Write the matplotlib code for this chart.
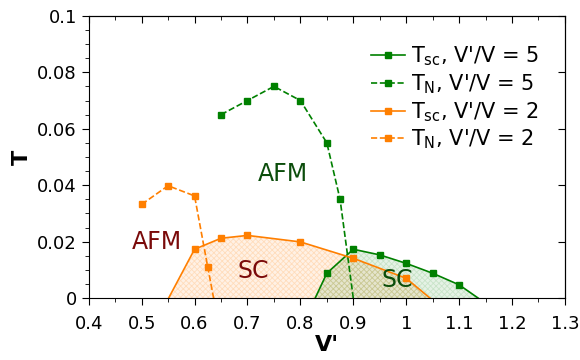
import matplotlib
matplotlib.use("Agg")
import matplotlib.pyplot as plt
from matplotlib.ticker import MultipleLocator

# Data
g_tsc_x = [0.828, 0.85, 0.9, 0.95, 1.0, 1.05, 1.1, 1.136]
g_tsc_y = [0.0, 0.0088, 0.0173, 0.0153, 0.0123, 0.0088, 0.0047, 0.0]
g_tn_x = [0.65, 0.7, 0.75, 0.8, 0.85, 0.875, 0.9]
g_tn_y = [0.065, 0.070, 0.075, 0.070, 0.055, 0.035, 0.0]
o_tsc_x = [0.551, 0.6, 0.65, 0.7, 0.8, 0.9, 1.0, 1.045]
o_tsc_y = [0.0, 0.0173, 0.0212, 0.0222, 0.0199, 0.0141, 0.0070, 0.0]
o_tn_x = [0.5, 0.55, 0.6, 0.625, 0.636]
o_tn_y = [0.0332, 0.0398, 0.0362, 0.0109, 0.0]

xticks = [0.4, 0.5, 0.6, 0.7, 0.8, 0.9, 1.0, 1.1, 1.2, 1.3]
xticklabels = ["0.4", "0.5", "0.6", "0.7", "0.8", "0.9", "1", "1.1", "1.2", "1.3"]
yticks = [0.0, 0.02, 0.04, 0.06, 0.08, 0.1]
yticklabels = ["0", "0.02", "0.04", "0.06", "0.08", "0.1"]

green = "#008000"
orange = "#ff7f00"
dgreen = "#0b4d0b"
dred = "#7a0a0a"

plt.rcParams["hatch.linewidth"] = 0.6

fig = plt.figure(figsize=(5.8, 3.6), dpi=100)
ax = fig.add_axes([0.153, 0.172, 0.821, 0.784])

ax.fill(o_tsc_x, o_tsc_y, facecolor=orange, alpha=0.10, edgecolor="none")
ax.fill(o_tsc_x, o_tsc_y, facecolor="none", edgecolor=orange, alpha=0.18, hatch="xxxxxx", linewidth=0)
ax.fill(g_tsc_x, g_tsc_y, facecolor=green, alpha=0.10, edgecolor="none")
ax.fill(g_tsc_x, g_tsc_y, facecolor="none", edgecolor=green, alpha=0.12, hatch="xxxxxx", linewidth=0)

ms = 5
ax.plot(g_tsc_x, g_tsc_y, "-s", color=green, ms=ms, lw=1.2, markevery=list(range(1, len(g_tsc_x) - 1)),
        label=r"T$_{\rm sc}$, V'/V = 5")
ax.plot(g_tn_x, g_tn_y, "--s", color=green, ms=ms, lw=1.2, markevery=list(range(0, len(g_tn_x) - 1)),
        label=r"T$_{\rm N}$, V'/V = 5")
ax.plot(o_tsc_x, o_tsc_y, "-s", color=orange, ms=ms, lw=1.2, markevery=list(range(1, len(o_tsc_x) - 1)),
        label=r"T$_{\rm sc}$, V'/V = 2")
ax.plot(o_tn_x, o_tn_y, "--s", color=orange, ms=ms, lw=1.2, markevery=list(range(0, len(o_tn_x) - 1)),
        label=r"T$_{\rm N}$, V'/V = 2")

ax.text(0.7675, 0.044, "AFM", color=dgreen, fontsize=17, ha="center", va="center")
ax.text(0.528, 0.020, "AFM", color=dred, fontsize=17, ha="center", va="center")
ax.text(0.7106, 0.0097, "SC", color=dred, fontsize=17, ha="center", va="center")
ax.text(0.9836, 0.0064, "SC", color=dgreen, fontsize=17, ha="center", va="center")

ax.set_xlim(0.4, 1.3)
ax.set_ylim(0, 0.1)
ax.set_xticks(xticks)
ax.set_xticklabels(xticklabels)
ax.set_yticks(yticks)
ax.set_yticklabels(yticklabels)
ax.xaxis.set_minor_locator(MultipleLocator(0.05))
ax.yaxis.set_minor_locator(MultipleLocator(0.005))
ax.tick_params(axis="both", which="both", direction="out", labelsize=13)
ax.tick_params(which="major", length=5)
ax.tick_params(which="minor", length=3)
ax.tick_params(axis="x", which="major", pad=7.5)

# top: inward ticks, right: inward major ticks
sec_x = ax.secondary_xaxis("top")
sec_x.set_xticks(xticks)
sec_x.xaxis.set_minor_locator(MultipleLocator(0.05))
sec_x.tick_params(which="both", direction="in", labeltop=False)
sec_x.tick_params(which="major", length=5)
sec_x.tick_params(which="minor", length=3)
sec_y = ax.secondary_yaxis("right")
sec_y.set_yticks(yticks)
sec_y.tick_params(which="both", direction="in", labelright=False, length=5)
sec_y.yaxis.set_minor_locator(plt.NullLocator())

ax.set_xlabel("V'", fontsize=16, fontweight="bold", labelpad=1)
ax.set_ylabel("T", fontsize=16, fontweight="bold", labelpad=4)

ax.legend(loc="upper right", frameon=False, fontsize=15, handlelength=1.6,
          handletextpad=0.3, labelspacing=0.2, bbox_to_anchor=(0.985, 0.965))

fig.savefig("out.png", dpi=100)
